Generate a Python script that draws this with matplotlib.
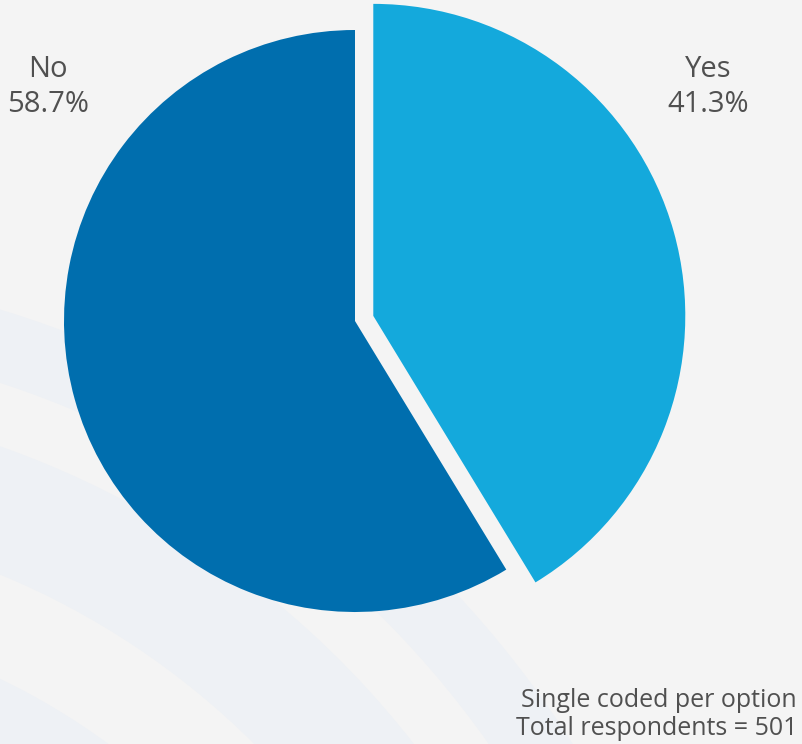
import matplotlib.pyplot as plt
from matplotlib.patches import Wedge

labels = ["Yes", "No"]
shares = [41.3, 58.7]
colors = ["#14a9dc", "#006eae"]
note = "Single coded per option\nTotal respondents = 501"

W, H = 802, 744
fig = plt.figure(figsize=(W / 100, H / 100), dpi=100)
fig.patch.set_facecolor("#f4f4f4")
ax = fig.add_axes([0, 0, 1, 1])
ax.set_xlim(0, W)
ax.set_ylim(0, H)
ax.set_aspect("equal")
ax.axis("off")

# faint background swooshes in the lower left (arcs centred off-canvas)
for r, w in [(1035, 70), (905, 120), (690, 120), (520, 80)]:
    ax.add_patch(Wedge((-300, -556), r, 0, 90, width=w,
                       facecolor="#eef1f5", edgecolor="none", zorder=0))

# pie: "No" at its normal size, "Yes" pulled out and drawn larger
cx, cy = 355, H - 321
wedges, _ = ax.pie(shares, colors=colors, startangle=90, counterclock=False,
                   explode=[19, 0], radius=291, center=(cx, cy),
                   wedgeprops=dict(linewidth=0))
wedges[0].set_radius(312)
ax.set_xlim(0, W)
ax.set_ylim(0, H)

font = "Open Sans"
txt = "#505050"
ax.text(48, H - 87, f"{labels[1]}\n{shares[1]}%", ha="center", va="center",
        fontsize=21, color=txt, family=font, linespacing=1.25)
ax.text(708, H - 87, f"{labels[0]}\n{shares[0]}%", ha="center", va="center",
        fontsize=21, color=txt, family=font, linespacing=1.25)
ax.text(797, H - 741, note, ha="right", va="bottom", fontsize=18,
        color=txt, family=font, linespacing=1.15)

fig.savefig("out.png", dpi=100, facecolor=fig.get_facecolor())
